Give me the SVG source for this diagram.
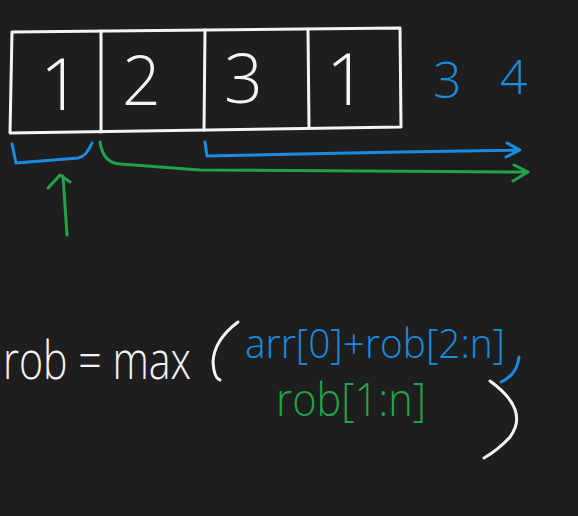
<svg xmlns="http://www.w3.org/2000/svg" width="578" height="516" viewBox="0 0 578 516">
<style>
.w{fill:none;stroke:#f4f4f4;stroke-width:3;stroke-linecap:round;stroke-linejoin:round}
.b{fill:none;stroke:#1a8ce0;stroke-width:3;stroke-linecap:round;stroke-linejoin:round}
.g{fill:none;stroke:#22a34a;stroke-width:3;stroke-linecap:round;stroke-linejoin:round}
text{font-family:"Open Sans","Liberation Sans",sans-serif;font-weight:300}
.tw{fill:#f4f4f4}
.tb{fill:#1a8ce0}
.tg{fill:#22a34a}
</style>
<rect width="578" height="516" fill="#1e1e1e"/>
<g id="array">
<path class="w" d="M12,32 L400,28 L401,127 L10,133 Z"/>
<path class="w" d="M101,31 L101,132"/>
<path class="w" d="M205,30 L204,130"/>
<path class="w" d="M308,29 L309,128"/>
<text class="tw" x="40" y="110" font-size="72">1</text>
<text class="tw" x="122" y="105" font-size="68">2</text>
<text class="tw" x="224" y="103" font-size="68">3</text>
<text class="tw" x="326" y="105" font-size="72">1</text>
</g>
<g id="labels">
<text class="tb" x="433" y="98" font-size="50">3</text>
<text class="tb" x="500" y="94" font-size="48">4</text>
</g>
<g id="connectors">
<path class="b" d="M12,144 L16,163 L78,158 Q86,157 92,143"/>
<path class="b" d="M205,142 L207,156 L300,154 L400,152 L520,150 M507,143 L520,150 L506,157"/>
<path class="g" d="M100,142 Q103,163 120,164 L200,170 L528,172 M514,165 L528,172 L513,181"/>
<path class="g" d="M67,235 L63,176 M48,188 L60,175 L70,182"/>
</g>
<g id="formula">
<text class="tw" x="3" y="379" font-size="54" textLength="188" lengthAdjust="spacingAndGlyphs">rob = max</text>
<path class="w" d="M238,322 Q214,340 213,362 Q214,378 220,380"/>
<text class="tb" x="245" y="358" font-size="40" textLength="260" lengthAdjust="spacingAndGlyphs">arr[0]+rob[2:n]</text>
<path class="b" d="M519,357 Q517,375 501,382"/>
<text class="tg" x="276" y="416" font-size="46" textLength="150" lengthAdjust="spacingAndGlyphs">rob[1:n]</text>
<path class="w" d="M490,381 Q530,410 510,437 Q498,450 484,458"/>
</g>
</svg>
